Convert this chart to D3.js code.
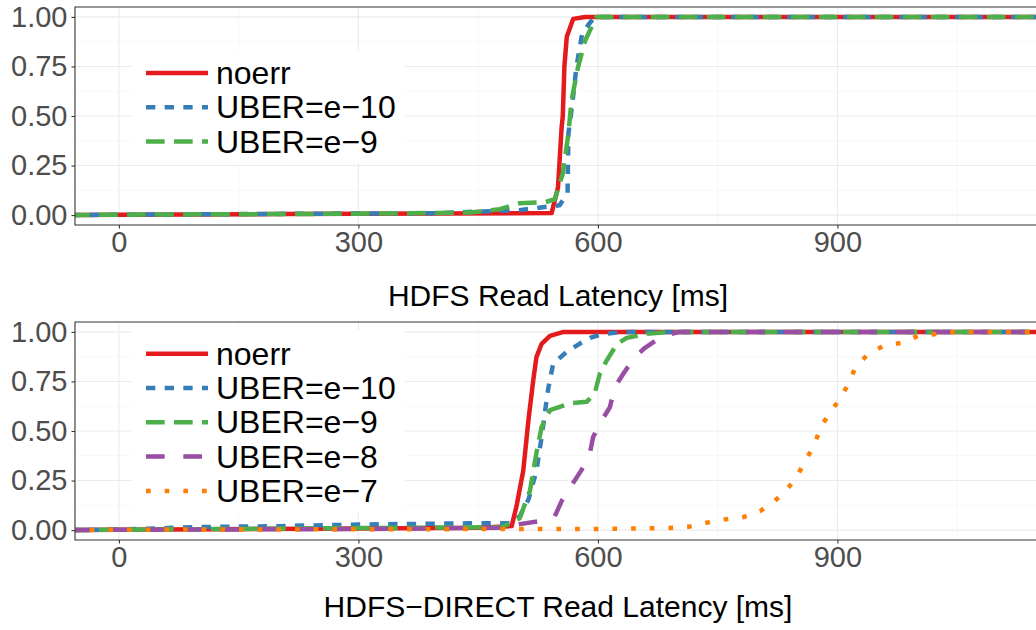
<!DOCTYPE html>
<html>
<head>
<meta charset="utf-8">
<script src="https://cdn.jsdelivr.net/npm/d3@7"></script>
<style>
  html, body { margin: 0; padding: 0; background: #ffffff; }
  svg { display: block; }
  text { font-family: "Liberation Sans", Arial, Helvetica, sans-serif; }
</style>
</head>
<body>
<svg id="chart" width="1036" height="630"></svg>
<script>
// ---------------- data (latency in ms, cumulative fraction) ----------------
const xTicks = [0, 300, 600, 900];
const xMinorTicks = [150, 450, 750, 1050];
const yTicks = [0, 0.25, 0.5, 0.75, 1];
const yTickLabels = ["0.00", "0.25", "0.50", "0.75", "1.00"];
const yMinorTicks = [0.125, 0.375, 0.625, 0.875];

const seriesNames = ["noerr", "UBER=e\u221210", "UBER=e\u22129", "UBER=e\u22128", "UBER=e\u22127"];
const seriesColors = ["#e41a1c", "#377eb8", "#4daf4a", "#984ea3", "#ff7f00"];

// Top panel: HDFS
const hdfsNoerr = [[-60,0],[0,0.002],[200,0.005],[400,0.008],[542,0.01],[550,0.14],[554.5,0.44],[556,0.5],[558,0.75],[561,0.9],[569,0.99],[584,1],[1160,1]];
const hdfsE10 = [[-60,0],[0,0.002],[200,0.006],[400,0.01],[502,0.025],[552,0.05],[562,0.11],[563,0.41],[567,0.53],[573,0.745],[580,0.91],[588,0.96],[596,1],[1160,1]];
const hdfsE9 = [[-60,0],[0,0.002],[300,0.007],[440,0.013],[477,0.03],[502,0.06],[534,0.065],[546,0.08],[556,0.21],[563,0.41],[567,0.58],[575,0.745],[584,0.88],[592,0.95],[598,1],[1160,1]];

// Bottom panel: HDFS-DIRECT
const directNoerr = [[-60,0],[0,0.002],[300,0.008],[450,0.012],[492,0.02],[498,0.12],[506.5,0.3],[513,0.555],[519,0.756],[523,0.873],[529.5,0.94],[540,0.98],[557,1],[1160,1]];
const directE10 = [[-60,0],[0,0.003],[100,0.015],[200,0.02],[300,0.028],[437,0.034],[490,0.035],[502,0.07],[513,0.154],[523,0.3],[529.5,0.47],[534,0.605],[538,0.72],[544,0.84],[561,0.9],[577,0.94],[590,0.97],[607,0.99],[632,1],[1160,1]];
const directE9 = [[-60,0],[0,0.002],[300,0.01],[480,0.015],[502,0.06],[515,0.2],[523,0.39],[529.5,0.52],[540,0.605],[565,0.64],[586,0.647],[596,0.69],[602.5,0.79],[611,0.856],[624,0.94],[636,0.97],[661,0.99],[690,1],[1160,1]];
const directE8 = [[-60,0],[0,0.002],[300,0.005],[480,0.012],[502,0.03],[535,0.05],[546,0.07],[555,0.15],[566,0.22],[579,0.3],[590,0.39],[594,0.47],[605,0.555],[615,0.62],[621,0.72],[632,0.79],[646,0.873],[659,0.92],[681,0.98],[703,1],[1160,1]];
const directE7 = [[-60,0],[0,0.002],[300,0.004],[600,0.006],[690,0.01],[714,0.017],[736,0.037],[759,0.054],[782,0.065],[803,0.095],[821,0.145],[836,0.2],[849,0.27],[860,0.35],[871,0.43],[879,0.517],[890,0.59],[903,0.66],[914,0.74],[923,0.826],[939,0.89],[958,0.93],[981,0.945],[1001,0.98],[1024,0.99],[1047,1],[1160,1]];

// ---------------- styles ----------------
const dashes = [null, "9.33,9.33", "18.67,9.33", "18.67,18.67", "4.67,14"];
const lineW = 4.5;

const svg = d3.select("#chart");
const panelLeft = 75, panelRight = 1041;

const x = d3.scaleLinear().domain([-55, 1155]).range([panelLeft, panelRight]);

function drawPanel(opts) {
  const { top, bottom, series, title, titleY, legendBox, legendRow0 } = opts;
  const g = svg.append("g");
  const y = d3.scaleLinear().domain([-0.05, 1.05]).range([bottom, top]);
  const clipId = "clip" + top;
  svg.append("defs").append("clipPath").attr("id", clipId)
    .append("rect").attr("x", panelLeft).attr("y", top)
    .attr("width", panelRight - panelLeft).attr("height", bottom - top);

  // minor grid
  g.selectAll(".ymin").data(yMinorTicks).join("line")
    .attr("x1", panelLeft).attr("x2", panelRight)
    .attr("y1", d => y(d)).attr("y2", d => y(d))
    .attr("stroke", "#f2f2f2").attr("stroke-width", 0.6);
  g.selectAll(".xmin").data(xMinorTicks).join("line")
    .attr("x1", d => x(d)).attr("x2", d => x(d))
    .attr("y1", top).attr("y2", bottom)
    .attr("stroke", "#f2f2f2").attr("stroke-width", 0.6);
  // major grid
  g.selectAll(".ymaj").data(yTicks).join("line")
    .attr("x1", panelLeft).attr("x2", panelRight)
    .attr("y1", d => y(d)).attr("y2", d => y(d))
    .attr("stroke", "#ebebeb").attr("stroke-width", 1.1);
  g.selectAll(".xmaj").data(xTicks).join("line")
    .attr("x1", d => x(d)).attr("x2", d => x(d))
    .attr("y1", top).attr("y2", bottom)
    .attr("stroke", "#ebebeb").attr("stroke-width", 1.1);

  // lines
  const line = d3.line().x(d => x(d[0])).y(d => y(d[1]));
  const lg = g.append("g").attr("clip-path", `url(#${clipId})`);
  series.forEach((s, i) => {
    lg.append("path").datum(s)
      .attr("d", line)
      .attr("fill", "none")
      .attr("stroke", seriesColors[i])
      .attr("stroke-width", lineW)
      .attr("stroke-linecap", "butt")
      .attr("stroke-linejoin", "round")
      .attr("stroke-dasharray", dashes[i]);
  });

  // border (top, left, bottom)
  g.append("path")
    .attr("d", `M${panelRight},${top}H${panelLeft}V${bottom}H${panelRight}`)
    .attr("fill", "none").attr("stroke", "#333333").attr("stroke-width", 1.1);

  // axes
  const yAxis = d3.axisLeft(y).tickValues(yTicks).tickSize(3.5).tickPadding(4)
    .tickFormat((d, i) => yTickLabels[i]);
  const ya = g.append("g").attr("transform", `translate(${panelLeft},0)`).call(yAxis);
  ya.select(".domain").remove();
  ya.selectAll(".tick line").attr("stroke", "#333333").attr("stroke-width", 1.1);
  ya.selectAll(".tick text").attr("fill", "#4d4d4d").attr("font-size", 29)
    .attr("font-family", "Liberation Sans, Arial, sans-serif");

  const xAxis = d3.axisBottom(x).tickValues(xTicks).tickSize(3.5).tickPadding(3)
    .tickFormat(d3.format("d"));
  const xa = g.append("g").attr("transform", `translate(0,${bottom})`).call(xAxis);
  xa.select(".domain").remove();
  xa.selectAll(".tick line").attr("stroke", "#333333").attr("stroke-width", 1.1);
  xa.selectAll(".tick text").attr("fill", "#4d4d4d").attr("font-size", 29)
    .attr("font-family", "Liberation Sans, Arial, sans-serif");

  // title
  svg.append("text")
    .attr("x", (panelLeft + panelRight) / 2).attr("y", titleY)
    .attr("text-anchor", "middle").attr("font-size", 30).attr("fill", "#000")
    .text(title);

  // legend
  const leg = g.append("g");
  leg.append("rect").attr("x", legendBox[0]).attr("y", legendBox[1])
    .attr("width", legendBox[2]).attr("height", legendBox[3]).attr("fill", "#ffffff");
  series.forEach((s, i) => {
    const cy = legendRow0 + i * 34.3;
    leg.append("line").attr("x1", 146).attr("x2", 208).attr("y1", cy).attr("y2", cy)
      .attr("stroke", seriesColors[i]).attr("stroke-width", lineW)
      .attr("stroke-linecap", "butt").attr("stroke-dasharray", dashes[i]);
    leg.append("text").attr("x", 216).attr("y", cy + 11)
      .attr("font-size", 32).attr("fill", "#000").text(seriesNames[i]);
  });
}

drawPanel({
  top: 7, bottom: 225,
  series: [hdfsNoerr, hdfsE10, hdfsE9],
  title: "HDFS Read Latency [ms]", titleY: 306,
  legendBox: [132, 51, 273, 112], legendRow0: 73
});

drawPanel({
  top: 322, bottom: 540,
  series: [directNoerr, directE10, directE9, directE8, directE7],
  title: "HDFS\u2212DIRECT Read Latency [ms]", titleY: 617,
  legendBox: [132, 330, 273, 183], legendRow0: 353.7
});
</script>
</body>
</html>
